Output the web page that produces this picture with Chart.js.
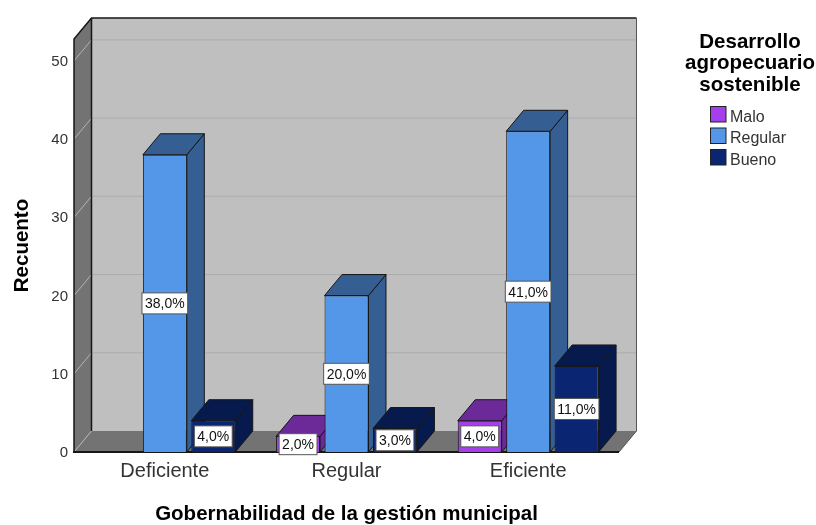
<!DOCTYPE html>
<html lang="es">
<head>
    <meta charset="UTF-8">
    <title>Gobernabilidad de la gestión municipal</title>
    <script src="https://cdn.jsdelivr.net/npm/chart.js"></script>
    <style>
        html, body { margin: 0; padding: 0; background: #fff; }
        #wrap { width: 816px; height: 525px; }
    </style>
</head>
<body>
    <div id="wrap"><canvas id="barChart" width="816" height="525"></canvas></div>
    <script>
        const categories = ['Deficiente', 'Regular', 'Eficiente'];
        const malo = [null, 2, 4];
        const regular = [38, 20, 41];
        const bueno = [4, 3, 11];
        const maloLabels = ['', '2,0%', '4,0%'];
        const regularLabels = ['38,0%', '20,0%', '41,0%'];
        const buenoLabels = ['4,0%', '3,0%', '11,0%'];
        const yTicks = [0, 10, 20, 30, 40, 50];
        const legendTitle = ['Desarrollo', 'agropecuario', 'sostenible'];

        const FONT = '"Liberation Sans", Arial, sans-serif';
        const DX = 17.5, DY = 21;
        const EDGE = '#161616';

        function poly(ctx, pts, fill, stroke) {
            ctx.beginPath();
            pts.forEach((p, i) => i ? ctx.lineTo(p[0], p[1]) : ctx.moveTo(p[0], p[1]));
            ctx.closePath();
            if (fill) { ctx.fillStyle = fill; ctx.fill(); }
            if (stroke) { ctx.strokeStyle = stroke; ctx.lineWidth = 1; ctx.stroke(); }
        }

        function drawWalls(chart) {
            const ctx = chart.ctx, a = chart.chartArea, y = chart.scales.y;
            poly(ctx, [[a.left + DX, a.top - DY], [a.right + DX, a.top - DY], [a.right + DX, a.bottom - DY], [a.left + DX, a.bottom - DY]], '#bfbfbf');
            poly(ctx, [[a.left, a.top], [a.left + DX, a.top - DY], [a.left + DX, a.bottom - DY], [a.left, a.bottom]], '#737373');
            poly(ctx, [[a.left, a.bottom], [a.left + DX, a.bottom - DY], [a.right + DX, a.bottom - DY], [a.right, a.bottom]], '#737373');
            yTicks.forEach(t => {
                const py = y.getPixelForValue(t);
                ctx.lineWidth = 1;
                ctx.strokeStyle = '#adadad';
                if (t > 0) {
                    ctx.beginPath();
                    ctx.moveTo(a.left + DX, py - DY);
                    ctx.lineTo(a.right + DX, py - DY);
                    ctx.stroke();
                }
                ctx.strokeStyle = '#b4b4b4';
                ctx.beginPath();
                ctx.moveTo(a.left, py);
                ctx.lineTo(a.left + DX, py - DY);
                ctx.stroke();
            });
            ctx.strokeStyle = EDGE;
            ctx.lineWidth = 1.5;
            ctx.beginPath();
            ctx.moveTo(a.left, a.bottom);
            ctx.lineTo(a.left, a.top);
            ctx.lineTo(a.left + DX, a.top - DY);
            ctx.lineTo(a.right + DX, a.top - DY);
            ctx.moveTo(a.left + DX, a.top - DY);
            ctx.lineTo(a.left + DX, a.bottom - DY);
            ctx.stroke();
            ctx.lineWidth = 1;
            ctx.strokeStyle = '#555';
            ctx.beginPath();
            ctx.moveTo(a.right + DX, a.top - DY);
            ctx.lineTo(a.right + DX, a.bottom - DY);
            ctx.lineTo(a.right, a.bottom);
            ctx.stroke();
            ctx.strokeStyle = EDGE;
            ctx.lineWidth = 2;
            ctx.beginPath();
            ctx.moveTo(a.left - 1, a.bottom);
            ctx.lineTo(a.right, a.bottom);
            ctx.stroke();
        }

        // Chart.js paints the last dataset first, here the bars have to go left to right
        const box3d = {
            id: 'box3d',
            beforeDatasetsDraw(chart) {
                const ctx = chart.ctx;
                ctx.save();
                drawWalls(chart);
                chart.data.datasets.forEach((ds, d) => {
                    const meta = chart.getDatasetMeta(d);
                    meta.data.forEach((bar, i) => {
                        if (ds.data[i] === null) return;
                        const half = bar.width / 2, l = bar.x - half, r = bar.x + half, t = bar.y, b = bar.base;
                        poly(ctx, [[r, t], [r + DX, t - DY], [r + DX, b - DY], [r, b]], ds.shade, EDGE);
                        poly(ctx, [[l, t], [l + DX, t - DY], [r + DX, t - DY], [r, t]], ds.shade, EDGE);
                    });
                    meta.controller.draw();
                });
                drawValueLabels(chart);
                ctx.restore();
                return false;
            },
            afterDraw(chart) {
                const ctx = chart.ctx;
                ctx.save();
                ctx.textAlign = 'center';
                ctx.textBaseline = 'middle';
                ctx.fillStyle = '#000';
                ctx.font = 'bold 20.5px ' + FONT;
                legendTitle.forEach((line, i) => ctx.fillText(line, 750, 42 + i * 21.5));
                ctx.textAlign = 'left';
                ctx.font = '16px ' + FONT;
                chart.data.datasets.forEach((ds, i) => {
                    const top = 106 + i * 21.5;
                    ctx.fillStyle = ds.backgroundColor;
                    ctx.strokeStyle = '#222';
                    ctx.lineWidth = 1;
                    ctx.fillRect(710.5, top + 0.5, 15.5, 15.5);
                    ctx.strokeRect(710.5, top + 0.5, 15.5, 15.5);
                    ctx.fillStyle = '#333';
                    ctx.fillText(ds.label, 730, top + 11.5);
                });
                ctx.restore();
            }
        };

        function drawValueLabels(chart) {
            const ctx = chart.ctx;
            ctx.font = '14px ' + FONT;
            ctx.textAlign = 'center';
            ctx.textBaseline = 'middle';
            chart.data.datasets.forEach((ds, d) => {
                chart.getDatasetMeta(d).data.forEach((bar, i) => {
                    if (ds.data[i] === null) return;
                    const text = ds.valueLabels[i];
                    const w = ctx.measureText(text).width + 6, h = 21;
                    const cy = (bar.y + bar.base) / 2;
                    ctx.fillStyle = '#fff';
                    ctx.strokeStyle = '#555';
                    ctx.lineWidth = 1;
                    ctx.fillRect(bar.x - w / 2, cy - h / 2, w, h);
                    ctx.strokeRect(bar.x - w / 2, cy - h / 2, w, h);
                    ctx.fillStyle = '#111';
                    ctx.fillText(text, bar.x, cy + 1);
                });
            });
        }

        const barDefaults = { borderColor: EDGE, borderWidth: 1, barPercentage: 0.907, categoryPercentage: 0.8 };

        new Chart(document.getElementById('barChart'), {
            type: 'bar',
            plugins: [box3d],
            data: {
                labels: categories,
                datasets: [
                    { ...barDefaults, label: 'Malo', data: malo, valueLabels: maloLabels, backgroundColor: '#a53fec', shade: '#6b2a98' },
                    { ...barDefaults, label: 'Regular', data: regular, valueLabels: regularLabels, backgroundColor: '#5497e8', shade: '#355e92' },
                    { ...barDefaults, label: 'Bueno', data: bueno, valueLabels: buenoLabels, backgroundColor: '#0a2672', shade: '#071a4d' }
                ]
            },
            options: {
                responsive: false,
                animation: false,
                layout: { padding: { top: 39, right: 197, left: 0, bottom: 0 } },
                plugins: { legend: { display: false }, tooltip: { enabled: false } },
                scales: {
                    x: {
                        afterFit: s => { s.height = 73; },
                        grid: { display: false, drawTicks: false },
                        border: { display: false },
                        ticks: { color: '#333', font: { family: FONT, size: 20 }, padding: 7, maxRotation: 0 },
                        title: { display: true, text: 'Gobernabilidad de la gestión municipal', color: '#000', font: { family: FONT, size: 20.5, weight: 'bold', lineHeight: 1 }, padding: { top: 0, bottom: 0 } }
                    },
                    y: {
                        min: 0,
                        max: 52.8,
                        afterFit: s => { s.width = 74; },
                        afterBuildTicks: s => { s.ticks = yTicks.map(v => ({ value: v })); },
                        grid: { display: false, drawTicks: false },
                        border: { display: false },
                        ticks: { color: '#333', font: { family: FONT, size: 15 }, padding: 6, labelOffset: 1 },
                        title: { display: true, text: 'Recuento', color: '#000', font: { family: FONT, size: 20.5, weight: 'bold', lineHeight: 1 }, padding: { top: 12, bottom: 0 } }
                    }
                }
            }
        });
    </script>
</body>
</html>
